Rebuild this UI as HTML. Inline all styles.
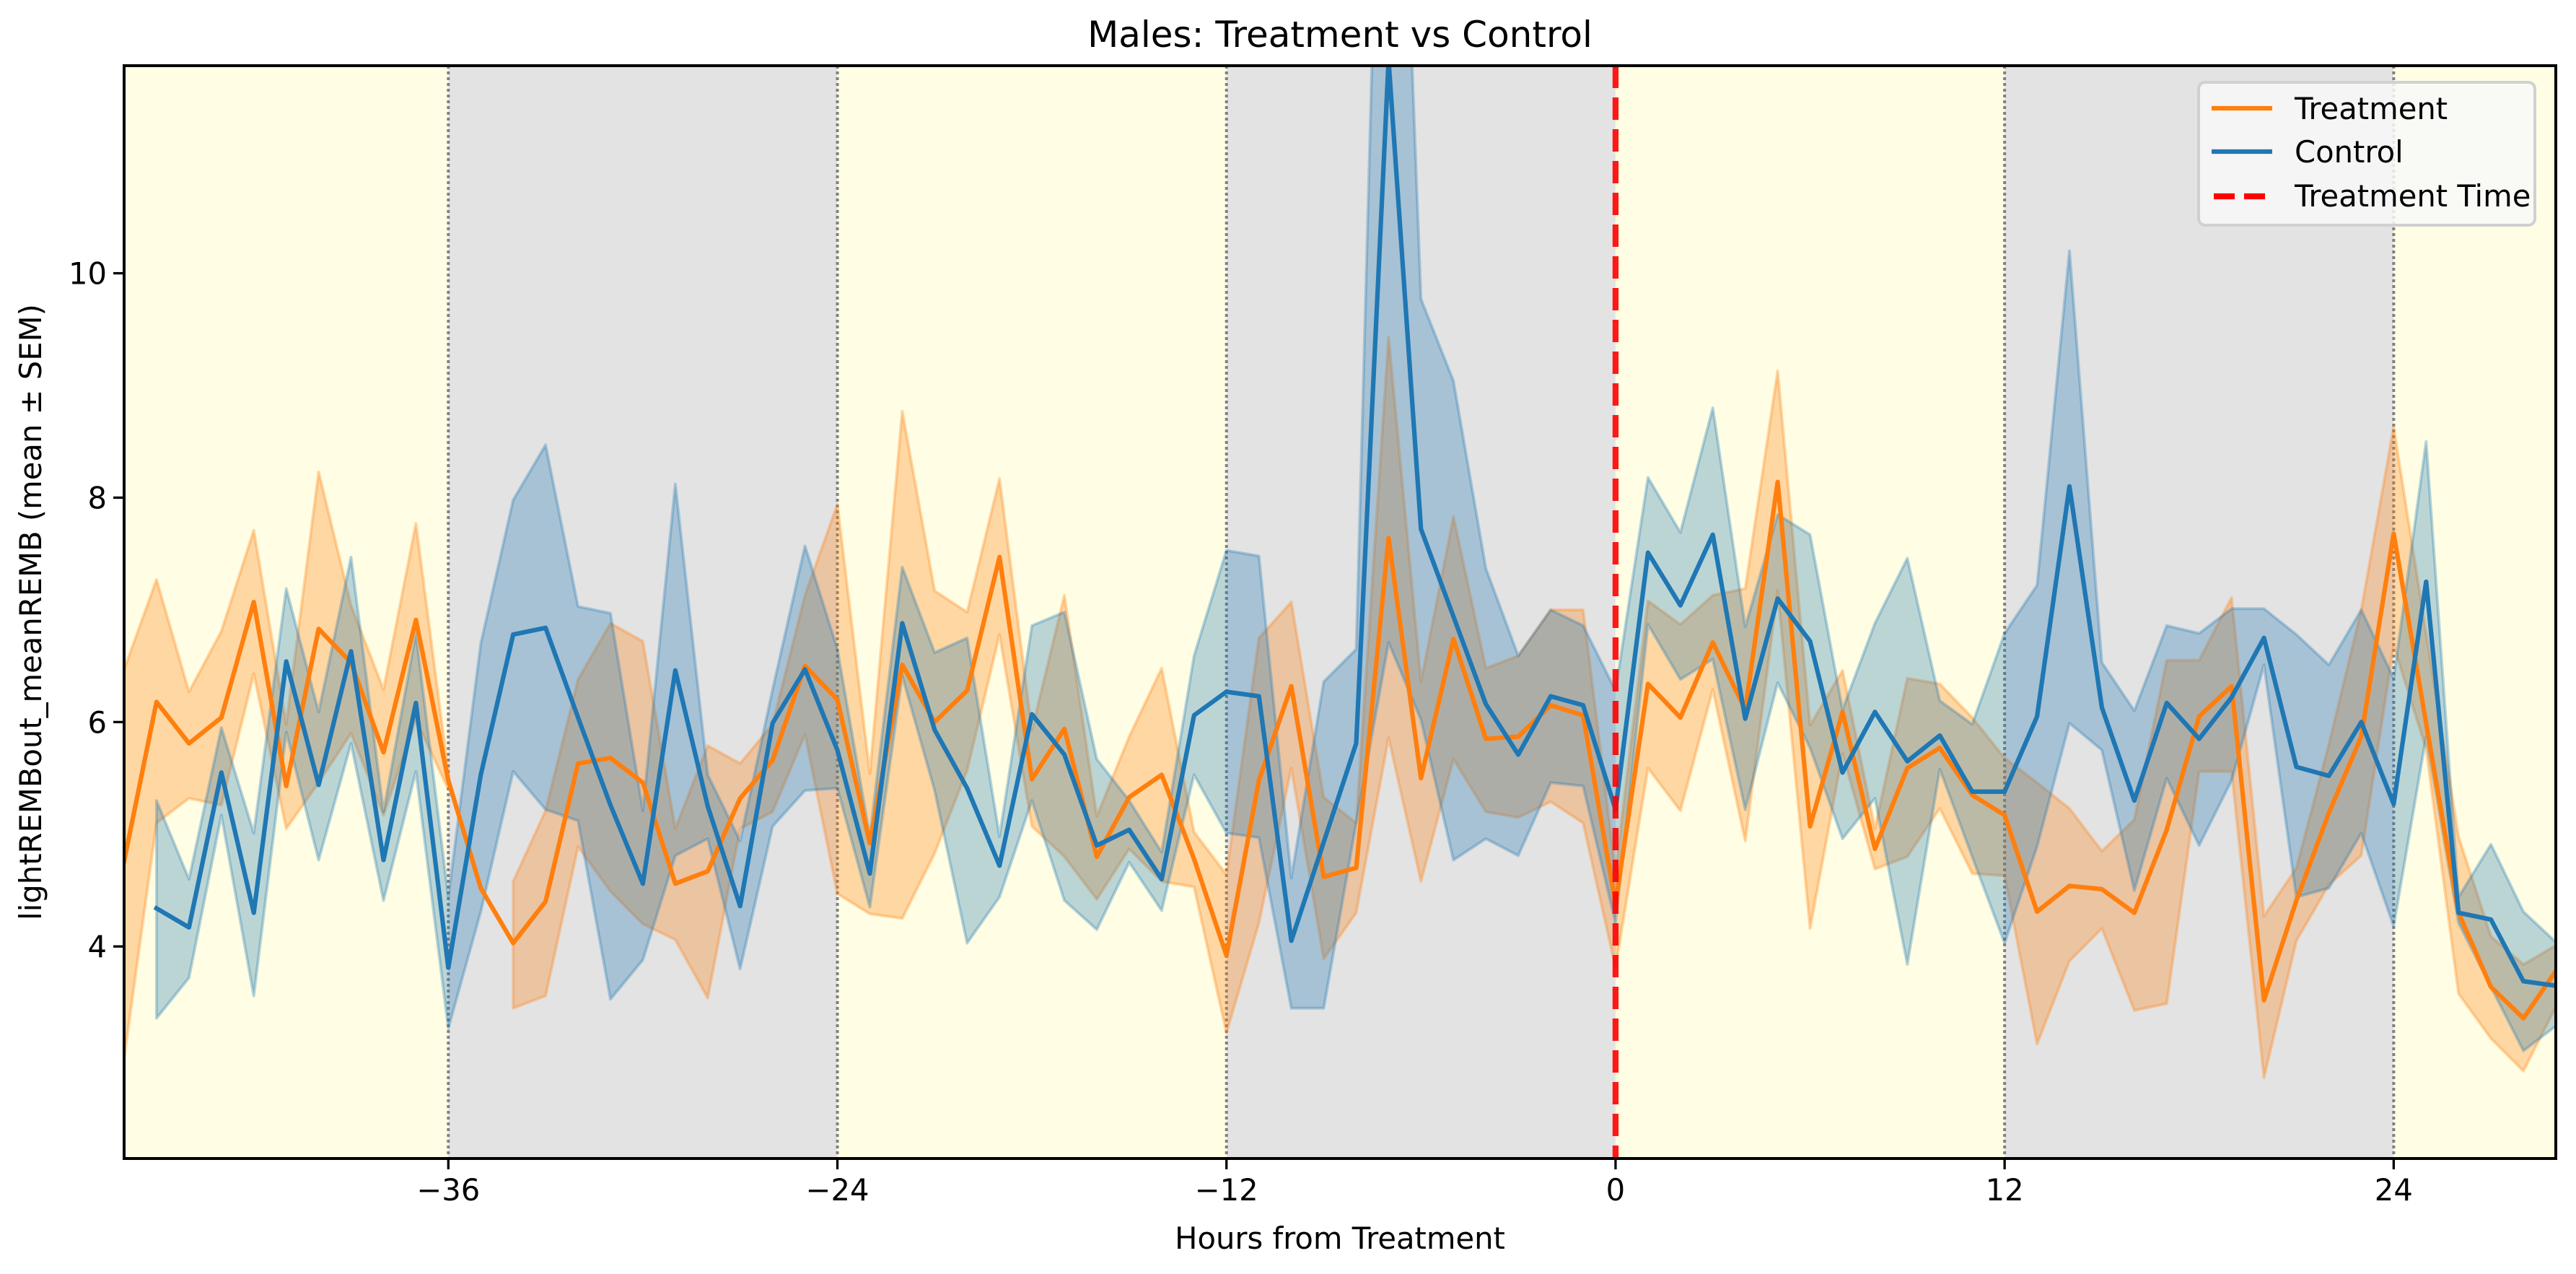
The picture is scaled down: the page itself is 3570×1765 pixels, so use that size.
<!DOCTYPE html>
<html><head><meta charset="utf-8"><style>
html,body{margin:0;padding:0;background:#fff;}
svg{display:block;font-family:"DejaVu Sans","Liberation Sans",sans-serif;}
</style></head><body>
<svg id="chart" xmlns="http://www.w3.org/2000/svg" width="3570" height="1765" viewBox="0 0 3570 1765">
<defs><clipPath id="plotclip"><rect x="172" y="91" width="3370" height="1514"/></clipPath></defs>
<rect width="3570" height="1765" fill="#ffffff"/>
<g id="bg" clip-path="url(#plotclip)"></g>
<g id="bands" clip-path="url(#plotclip)"></g>
<g id="lines" clip-path="url(#plotclip)"></g>
<g id="axes"></g>
<text x="1857" y="65" text-anchor="middle" font-size="50">Males: Treatment vs Control</text>
<text x="1857" y="1730" text-anchor="middle" font-size="41.7">Hours from Treatment</text>
<text transform="translate(57,848) rotate(-90)" text-anchor="middle" font-size="41.7">lightREMBout_meanREMB (mean ± SEM)</text>
<g>
<rect x="3047" y="114" width="466" height="198" rx="9" fill="#f8f8f8" fill-opacity="0.85" stroke="#d0d0d0" stroke-width="4"/>
<line x1="3065" y1="150" x2="3149" y2="150" stroke="#ff7f0e" stroke-width="6.25"/>
<text x="3180" y="165" font-size="41.7">Treatment</text>
<line x1="3065" y1="210" x2="3149" y2="210" stroke="#1f77b4" stroke-width="6.25"/>
<text x="3180" y="225" font-size="41.7">Control</text>
<line x1="3068" y1="272" x2="3146" y2="272" stroke="#ff0000" stroke-width="8.3" stroke-dasharray="29,13"/>
<text x="3180" y="286" font-size="41.7">Treatment Time</text>
</g>
</svg>
<script>
const hours = [];
for (let h = -46; h <= 29; h++) hours.push(h);
const treatMean = [4.76,6.18,5.81,6.04,7.07,5.43,6.83,6.53,5.73,6.91,5.48,4.52,4.03,4.40,5.63,5.68,5.46,4.56,4.67,5.32,5.66,6.50,6.20,4.92,6.51,6.00,6.28,7.47,5.49,5.94,4.80,5.33,5.53,4.78,3.92,5.48,6.32,4.62,4.70,7.64,5.50,6.74,5.85,5.87,6.15,6.06,4.38,6.34,6.04,6.71,6.11,8.14,5.07,6.09,4.87,5.59,5.77,5.35,5.17,4.31,4.54,4.51,4.30,5.04,6.05,6.32,3.52,4.41,5.19,5.87,7.68,5.99,4.30,3.64,3.36,3.78];
const treatUpper = [6.47,7.27,6.27,6.81,7.71,5.98,8.23,7.04,6.29,7.77,5.55,null,4.58,5.21,6.38,6.88,6.72,5.05,5.79,5.63,5.98,7.13,7.94,5.54,8.77,7.17,6.98,8.17,5.93,7.13,5.16,5.87,6.48,5.02,4.64,6.75,7.07,5.33,5.10,9.43,6.36,7.83,6.48,6.59,7.00,7.00,4.67,7.08,6.87,7.13,7.19,9.13,5.97,6.46,5.05,6.39,6.34,6.04,5.68,5.46,5.23,4.85,5.13,6.55,6.55,7.11,4.27,4.70,5.80,7.00,8.63,6.79,4.98,4.09,3.84,4.01];
const treatLower = [3.00,5.10,5.32,5.26,6.43,5.05,5.46,5.90,5.17,6.02,5.40,null,3.45,3.56,4.89,4.49,4.20,4.06,3.54,5.05,5.20,5.89,4.47,4.29,4.25,4.83,5.57,6.78,5.07,4.80,4.42,4.87,4.58,4.53,3.23,4.21,5.59,3.89,4.30,5.86,4.58,5.67,5.20,5.15,5.29,5.10,3.81,5.59,5.21,6.29,4.94,7.17,4.16,5.72,4.69,4.80,5.23,4.65,4.63,3.13,3.87,4.16,3.43,3.49,5.56,5.56,2.83,4.05,4.55,4.81,6.68,5.76,3.58,3.18,2.89,3.46];
const ctrlMean = [null,4.34,4.17,5.55,4.30,6.54,5.44,6.63,4.77,6.17,3.81,5.53,6.78,6.84,6.04,5.26,4.56,6.46,5.25,4.36,5.99,6.47,5.75,4.65,6.88,5.93,5.41,4.72,6.07,5.71,4.90,5.04,4.60,6.06,6.27,6.23,4.05,4.93,5.81,11.90,7.72,6.94,6.16,5.71,6.23,6.15,5.22,7.51,7.04,7.67,6.03,7.10,6.72,5.55,6.09,5.65,5.88,5.38,5.38,6.05,8.10,6.13,5.30,6.17,5.85,6.22,6.75,5.60,5.52,6.00,5.27,7.25,4.30,4.24,3.69,3.65];
const ctrlUpper = [null,5.30,4.60,5.95,5.01,7.19,6.09,7.47,5.20,6.79,4.44,6.70,7.98,8.47,7.03,6.97,5.21,8.12,5.53,4.94,6.29,7.57,6.65,4.98,7.38,6.62,6.75,4.98,6.86,6.98,5.67,5.30,4.84,6.59,7.53,7.48,4.61,6.36,6.65,17.40,9.77,9.04,7.37,6.59,7.00,6.86,6.28,8.18,7.69,8.80,6.85,7.85,7.67,6.11,6.88,7.46,6.19,5.98,6.79,7.22,10.20,6.53,6.10,6.86,6.79,7.01,7.01,6.78,6.51,7.00,6.39,8.50,4.44,4.91,4.31,4.04];
const ctrlLower = [null,3.36,3.72,5.17,3.56,5.91,4.77,5.81,4.41,5.56,3.27,4.31,5.56,5.22,5.12,3.53,3.88,4.81,4.96,3.80,5.07,5.39,5.41,4.35,6.41,5.39,4.03,4.44,5.30,4.41,4.15,4.75,4.32,5.53,5.01,4.97,3.45,3.45,5.10,6.71,6.02,4.77,4.96,4.81,5.46,5.43,4.21,6.87,6.38,6.56,5.22,6.35,5.77,4.96,5.32,3.84,5.58,4.80,4.03,4.89,5.99,5.75,4.50,5.50,4.90,5.48,6.51,4.44,4.52,5.01,4.18,5.87,4.21,3.64,3.07,3.29];
const xTicks = [-36,-24,-12,0,12,24];
const yTicks = [4,6,8,10];
const phaseStarts = [-46,-36,-24,-12,0,12,24];
const phaseEnds = [-36,-24,-12,0,12,24,29];
const phaseDark = [false,true,false,true,false,true,false];
const boundaries = [-36,-24,-12,12,24];
const treatmentTime = 0;

const X0=172, X1=3542, Y0=91, Y1=1605;
const xMin=-46, xMax=29, yMin=2.11, yMax=11.85;
const NS='http://www.w3.org/2000/svg';
function xs(v){return X0+(v-xMin)/(xMax-xMin)*(X1-X0);}
function ys(v){return Y1-(v-yMin)/(yMax-yMin)*(Y1-Y0);}
function mk(tag, attrs, parent){const e=document.createElementNS(NS,tag);for(const k in attrs)e.setAttribute(k,attrs[k]);parent.appendChild(e);return e;}
const bg=document.getElementById('bg'), bands=document.getElementById('bands'), lines=document.getElementById('lines'), axes=document.getElementById('axes');

phaseStarts.forEach((s,i)=>{
  const r=mk('rect',{x:xs(s),y:Y0,width:xs(phaseEnds[i])-xs(s),height:Y1-Y0,fill:phaseDark[i]?'#e3e3e3':'#fffee4'},bg);
  
  
});
boundaries.forEach(b=>{
  const l=mk('line',{x1:xs(b),x2:xs(b),y1:Y0,y2:Y1,stroke:'#808080','stroke-width':4,'stroke-dasharray':'4,4'},bg);
  
  
});

function band(upper, lower, color, name){
  let segs=[], cur=[];
  hours.forEach((h,i)=>{
    if(upper[i]==null||lower[i]==null){if(cur.length)segs.push(cur);cur=[];}
    else cur.push(i);
  });
  if(cur.length)segs.push(cur);
  segs.forEach(seg=>{
    let d='';
    seg.forEach((i,k)=>{d+=(k?'L':'M')+xs(hours[i]).toFixed(1)+','+ys(upper[i]).toFixed(1);});
    seg.slice().reverse().forEach(i=>{d+='L'+xs(hours[i]).toFixed(1)+','+ys(lower[i]).toFixed(1);});
    d+='Z';
    const p=mk('path',{d:d,fill:color,'fill-opacity':0.3,stroke:color,'stroke-opacity':0.3,'stroke-width':4,'stroke-linejoin':'round'},bands);
    
    
  });
}
band(treatUpper,treatLower,'#ff7f0e','treatment-sem-band');
band(ctrlUpper,ctrlLower,'#1f77b4','control-sem-band');

function line(vals,color,name){
  let d='', pen=false;
  hours.forEach((h,i)=>{
    if(vals[i]==null){pen=false;return;}
    d+=(pen?'L':'M')+xs(h).toFixed(1)+','+ys(vals[i]).toFixed(1);pen=true;
  });
  const p=mk('path',{d:d,fill:'none',stroke:color,'stroke-width':6.25,'stroke-linejoin':'round','stroke-linecap':'square'},lines);
  
  
}
line(treatMean,'#ff7f0e','treatment-line');
line(ctrlMean,'#1f77b4','control-line');

const tl=mk('line',{x1:xs(treatmentTime),x2:xs(treatmentTime),y1:Y0,y2:Y1,stroke:'#ff0000','stroke-width':8.3,'stroke-dasharray':'31,13','stroke-opacity':0.9},lines);



const frame=mk('rect',{x:X0,y:Y0,width:X1-X0,height:Y1-Y0,fill:'none',stroke:'#000','stroke-width':4},axes);



xTicks.forEach(t=>{
  const x=xs(t);
  const tk=mk('line',{x1:x,x2:x,y1:Y1,y2:Y1+15,stroke:'#000','stroke-width':3.3},axes);
  
  
  const tx=mk('text',{x:x,y:Y1+58,'text-anchor':'middle','font-size':41.7},axes);
  tx.textContent=(t<0?'\u2212'+Math.abs(t):String(t));
  
  
});
yTicks.forEach(t=>{
  const y=ys(t);
  const tk=mk('line',{x1:X0-15,x2:X0,y1:y,y2:y,stroke:'#000','stroke-width':3.3},axes);
  
  
  const tx=mk('text',{x:X0-24,y:y+15,'text-anchor':'end','font-size':41.7},axes);
  tx.textContent=String(t);
  
  
});
</script>
</body></html>
